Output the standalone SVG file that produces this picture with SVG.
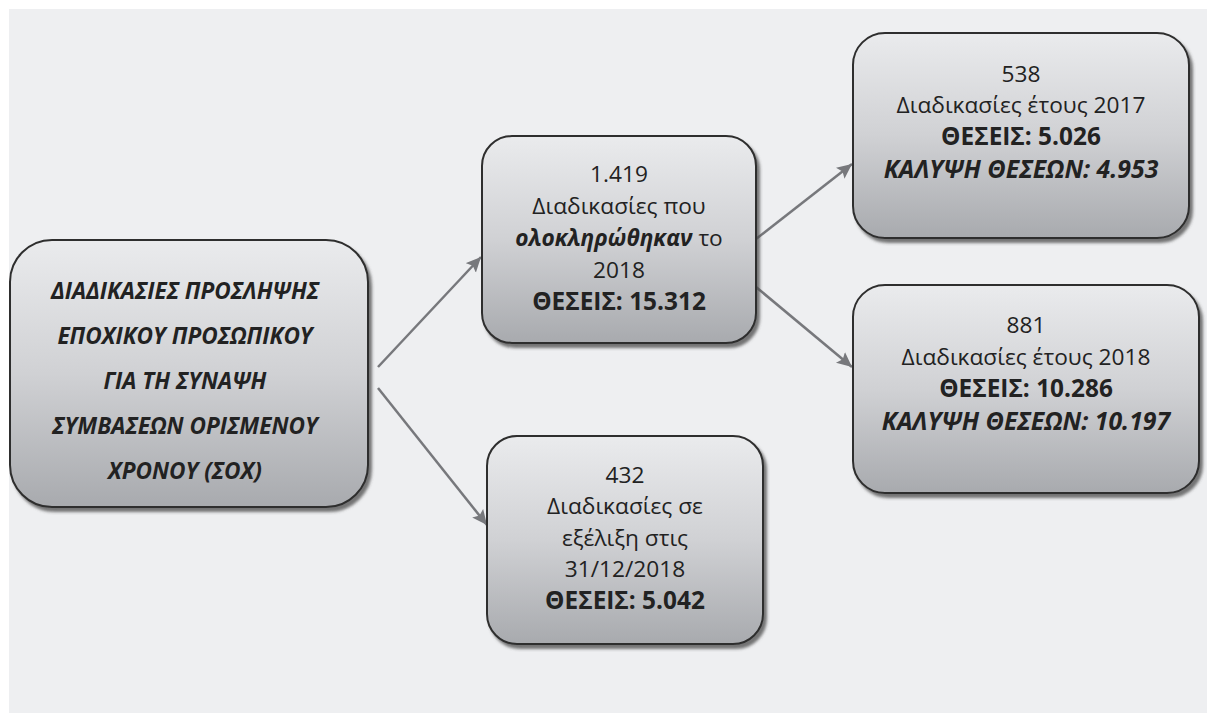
<svg xmlns="http://www.w3.org/2000/svg" width="1207" height="713" viewBox="0 0 1207 713">
<defs>
<linearGradient id="g" x1="0" y1="0" x2="0" y2="1">
<stop offset="0" stop-color="#eaebed"/>
<stop offset="0.5" stop-color="#d0d1d4"/>
<stop offset="1" stop-color="#a8aaae"/>
</linearGradient>
<filter id="sh" x="-10%" y="-10%" width="125%" height="125%">
<feDropShadow dx="3" dy="4" stdDeviation="1.5" flood-color="#4a4a4a" flood-opacity="0.75"/>
</filter>
<marker id="ah" markerUnits="userSpaceOnUse" markerWidth="18" markerHeight="16" refX="15" refY="7" orient="auto">
<path d="M0,0 L15,7 L0,14 L3,7 Z" fill="#77787c"/>
</marker>
<style>
.t{font-family:"Open Sans","DejaVu Sans",sans-serif;font-size:22.7px;fill:#222222;text-anchor:middle}
.box{fill:url(#g);stroke:#2e2e2e;stroke-width:2;filter:url(#sh)}
.b{font-weight:bold;font-size:24.4px}
.bi{font-weight:bold;font-style:italic;font-size:24.8px}
.ib{font-weight:bold;font-style:italic}
.a{font-family:"Open Sans","DejaVu Sans",sans-serif;font-size:22.6px;fill:#222222;text-anchor:middle;font-weight:bold;font-style:italic}
.c{stroke:#77787c;stroke-width:2.5;fill:none;marker-end:url(#ah)}
</style>
</defs>
<rect x="0" y="0" width="1207" height="713" fill="#ffffff"/>
<rect x="9" y="9" width="1198" height="704" fill="#eeeff1"/>

<g id="connectors">
<line class="c" x1="378" y1="367" x2="481" y2="257"/>
<line class="c" x1="378" y1="388" x2="487" y2="525"/>
<line class="c" x1="756" y1="239" x2="852" y2="164"/>
<line class="c" x1="756" y1="287" x2="852" y2="367"/>
</g>

<g id="node-main">
<rect class="box" x="10" y="240" width="358" height="267" rx="42" ry="42"/>
<text class="a" x="185" y="299">ΔΙΑΔΙΚΑΣΙΕΣ ΠΡΟΣΛΗΨΗΣ</text>
<text class="a" x="185" y="344">ΕΠΟΧΙΚΟΥ ΠΡΟΣΩΠΙΚΟΥ</text>
<text class="a" x="185" y="389">ΓΙΑ ΤΗ ΣΥΝΑΨΗ</text>
<text class="a" x="185" y="434">ΣΥΜΒΑΣΕΩΝ ΟΡΙΣΜΕΝΟΥ</text>
<text class="a" x="185" y="479">ΧΡΟΝΟΥ (ΣΟΧ)</text>
</g>

<g id="node-completed">
<rect class="box" x="482" y="136" width="274" height="207" rx="30" ry="30"/>
<text class="t" x="619" y="182">1.419</text>
<text class="t" x="619" y="214">Διαδικασίες που</text>
<text class="t" x="619" y="246"><tspan class="ib">ολοκληρώθηκαν</tspan> το</text>
<text class="t" x="619" y="278">2018</text>
<text class="t b" x="619" y="310">ΘΕΣΕΙΣ: 15.312</text>
</g>

<g id="node-pending">
<rect class="box" x="487" y="436" width="276" height="208" rx="30" ry="30"/>
<text class="t" x="625" y="483">432</text>
<text class="t" x="625" y="514">Διαδικασίες σε</text>
<text class="t" x="625" y="546">εξέλιξη στις</text>
<text class="t" x="625" y="577">31/12/2018</text>
<text class="t b" x="625" y="609">ΘΕΣΕΙΣ: 5.042</text>
</g>

<g id="node-2017">
<rect class="box" x="853" y="33" width="336" height="205" rx="32" ry="32"/>
<text class="t" x="1021" y="82">538</text>
<text class="t" x="1021" y="113">Διαδικασίες έτους 2017</text>
<text class="t b" x="1021" y="145">ΘΕΣΕΙΣ: 5.026</text>
<text class="t bi" x="1021" y="178">ΚΑΛΥΨΗ ΘΕΣΕΩΝ: 4.953</text>
</g>

<g id="node-2018">
<rect class="box" x="853" y="285" width="346" height="208" rx="32" ry="32"/>
<text class="t" x="1026" y="333">881</text>
<text class="t" x="1026" y="365">Διαδικασίες έτους 2018</text>
<text class="t b" x="1026" y="397">ΘΕΣΕΙΣ: 10.286</text>
<text class="t bi" x="1026" y="430">ΚΑΛΥΨΗ ΘΕΣΕΩΝ: 10.197</text>
</g>
</svg>
